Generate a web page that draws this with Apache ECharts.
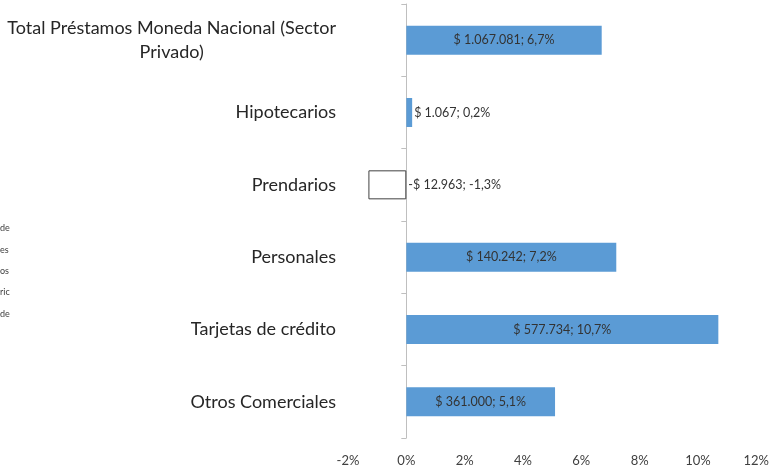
<!DOCTYPE html>
<html>
<head>
<meta charset="utf-8">
<script src="https://cdn.jsdelivr.net/npm/echarts@6/dist/echarts.min.js"></script>
<style>
  html, body { margin: 0; padding: 0; background: #fff; }
  #chart { width: 772px; height: 469px; }
</style>
</head>
<body>
<div id="chart"></div>
<script>
const categories = [
  'Total Préstamos Moneda Nacional (Sector Privado)',
  'Hipotecarios',
  'Prendarios',
  'Personales',
  'Tarjetas de crédito',
  'Otros Comerciales'
]
const growthPct = [6.7, 0.2, -1.3, 7.2, 10.7, 5.1]
const amounts = [1067081, 1067, -12963, 140242, 577734, 361000]
const xTicks = [-2, 0, 2, 4, 6, 8, 10, 12]
const legendScraps = ['de', 'es', 'os', 'ric', 'de']

const fmtAmount = (n) => {
  const s = Math.abs(n).toString().replace(/\B(?=(\d{3})+(?!\d))/g, '.')
  return (n < 0 ? '-$ ' : '$ ') + s
}
const fmtPct = (v) => v.toFixed(1).replace('.', ',') + '%'

const font = 'Lato, "Open Sans", sans-serif'

const chart = echarts.init(document.getElementById('chart'))

const seriesData = growthPct.map((v) => {
  const item = { value: v }
  if (v < 0) {
    item.itemStyle = { color: '#ffffff', borderColor: '#404040', borderWidth: 1 }
    item.label = { position: 'right', distance: 2 }
  } else if (v < 1) {
    item.label = { position: 'right', distance: 2 }
  }
  return item
})

chart.setOption({
  animation: false,
  grid: { left: 348, right: 12, top: 4, bottom: 31 },
  xAxis: {
    type: 'value',
    min: xTicks[0],
    max: xTicks[xTicks.length - 1],
    interval: 2,
    axisLine: { show: false },
    axisTick: { show: false },
    splitLine: { show: false },
    axisLabel: {
      formatter: '{value}%',
      margin: 16,
      color: '#404040',
      fontSize: 13,
      fontFamily: font
    }
  },
  yAxis: [
    {
      type: 'category',
      data: categories,
      inverse: true,
      position: 'left',
      axisLine: { show: false, onZero: false },
      axisTick: { show: false },
      axisLabel: {
        margin: 12,
        color: '#262626',
        fontSize: 18,
        fontFamily: font,
        formatter: (val) => {
          if (val.length > 30) {
            const cut = val.lastIndexOf(' ')
            return '{c|' + val.slice(0, cut) + '}\n{c|' + val.slice(cut + 1) + '}'
          }
          return val
        },
        rich: {
          c: { align: 'center', fontSize: 18, fontFamily: font, color: '#262626', lineHeight: 24 }
        }
      }
    },
    {
      type: 'category',
      data: categories,
      inverse: true,
      position: 'left',
      axisLine: { show: true, onZero: true, lineStyle: { color: '#bfbfbf', width: 1 } },
      axisTick: { show: true, length: 5, lineStyle: { color: '#bfbfbf' } },
      axisLabel: { show: false }
    }
  ],
  series: [
    {
      type: 'bar',
      yAxisIndex: 0,
      data: seriesData,
      barWidth: 29,
      itemStyle: { color: '#5b9bd5' },
      label: {
        show: true,
        position: 'inside',
        color: '#333333',
        fontSize: 12.5,
        fontFamily: font,
        formatter: (p) => fmtAmount(amounts[p.dataIndex]) + '; ' + fmtPct(growthPct[p.dataIndex])
      }
    }
  ],
  graphic: legendScraps.map((t, i) => ({
    type: 'text',
    left: 0,
    top: 224 + i * 21.3,
    style: { text: t, fontSize: 9, fontFamily: font, fill: '#404040' }
  }))
})

window.addEventListener('resize', () => chart.resize())
</script>
</body>
</html>
